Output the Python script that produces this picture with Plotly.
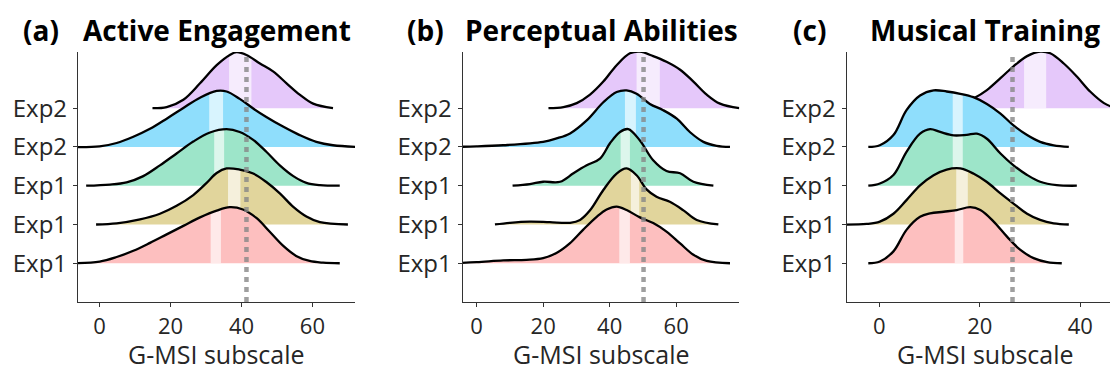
import plotly.graph_objects as go
import numpy as np

# ---------------- data ----------------
ytick_labels = ["Exp1", "Exp1", "Exp1", "Exp2", "Exp2"]
panel_titles = ["Active Engagement", "Perceptual Abilities", "Musical Training"]
panel_tags = ["(a)", "(b)", "(c)"]
norm_values = [41.4, 50.2, 26.5]

# Panel (a) Active Engagement : ridges bottom -> top
ae_r1_x = [-9, 0, 4.8, 9.5, 14.2, 18.9, 23.6, 28.3, 33, 36.7, 40.4, 44.2, 47.9, 51.7, 55.4, 59.2, 63, 67.7]
ae_r1_d = [0, 0.03, 0.11, 0.22, 0.36, 0.51, 0.66, 0.81, 0.93, 0.99, 0.95, 0.8, 0.56, 0.31, 0.13, 0.04, 0.01, 0]
ae_r2_x = [-1, 4.8, 11.4, 17, 21.7, 26.4, 30.1, 33, 35.8, 39.5, 43.3, 47, 50.8, 54.6, 58.3, 62.1, 70]
ae_r2_d = [0, 0.02, 0.09, 0.19, 0.33, 0.52, 0.73, 0.91, 0.99, 0.97, 0.9, 0.75, 0.55, 0.31, 0.14, 0.04, 0]
ae_r3_x = [-3.8, 2.9, 7.6, 12.3, 17, 21.7, 26.4, 31.1, 35.8, 39.5, 43.3, 47, 50.8, 54.6, 58.3, 62.1, 67.7]
ae_r3_d = [0, 0.02, 0.06, 0.17, 0.36, 0.57, 0.78, 0.94, 1.0, 0.95, 0.81, 0.6, 0.36, 0.17, 0.05, 0.01, 0]
ae_r4_x = [-9, 0, 4.8, 9.5, 14.2, 18.9, 23.6, 28.3, 33, 35.8, 39.5, 43.3, 47, 51.7, 56.4, 61.1, 65.8, 73]
ae_r4_d = [0, 0.01, 0.07, 0.18, 0.32, 0.5, 0.69, 0.87, 0.99, 0.98, 0.85, 0.68, 0.53, 0.36, 0.21, 0.09, 0.03, 0]
ae_r5_x = [14.9, 18.9, 23.6, 28.3, 33, 36.7, 38.6, 41.4, 45.2, 48.9, 52.7, 56.4, 60.2, 65.8]
ae_r5_d = [0, 0.02, 0.15, 0.44, 0.76, 0.94, 0.99, 0.94, 0.79, 0.65, 0.44, 0.24, 0.08, 0]
ae_bands = [(31.3, 34.2), (36.2, 39.7), (32.3, 35.1), (30.9, 34.8), (36.5, 42.8)]

# Panel (b) Perceptual Abilities
pa_r1_x = [-8, 0, 8, 15, 20, 24, 28, 32, 36.1, 39.1, 42.1, 45.1, 49.1, 53.1, 57.1, 61.2, 65.2, 69.2, 76.2]
pa_r1_d = [0, 0.02, 0.05, 0.06, 0.09, 0.18, 0.35, 0.59, 0.82, 0.95, 1.0, 0.94, 0.81, 0.71, 0.56, 0.35, 0.15, 0.04, 0]
pa_r2_x = [5.5, 10, 16, 22, 28.1, 31.1, 34.1, 38.1, 42.1, 45.1, 48.1, 51.1, 54.1, 58.1, 62.2, 66.2, 72.7]
pa_r2_d = [0, 0.03, 0.05, 0.04, 0.03, 0.08, 0.25, 0.61, 0.9, 0.99, 0.87, 0.62, 0.49, 0.4, 0.25, 0.08, 0]
pa_r3_x = [10.8, 16, 20, 25.1, 29.1, 33.1, 37.1, 40.1, 43.1, 45.6, 49.1, 53.1, 57.1, 61.2, 65.2, 71.2]
pa_r3_d = [0, 0.03, 0.07, 0.07, 0.22, 0.36, 0.48, 0.75, 0.95, 1.0, 0.8, 0.45, 0.26, 0.22, 0.07, 0]
pa_r4_x = [-8, 0, 8, 20, 24, 28.1, 33.1, 38.1, 42.1, 45.1, 48.1, 52.1, 56.1, 60.2, 64.2, 68.2, 72.2, 76.2]
pa_r4_d = [0, 0.01, 0.03, 0.09, 0.15, 0.24, 0.47, 0.79, 0.97, 1.0, 0.94, 0.76, 0.65, 0.5, 0.26, 0.09, 0.02, 0]
pa_r5_x = [21.6, 26.1, 30.1, 34.1, 38.1, 42.1, 46.1, 49.1, 53.1, 57.1, 61.2, 65.2, 69.2, 73.2, 79]
pa_r5_d = [0, 0.02, 0.09, 0.24, 0.47, 0.76, 0.97, 1.0, 0.92, 0.82, 0.68, 0.47, 0.24, 0.08, 0]
pa_bands = [(42.9, 46.1), (46.4, 48.9), (43.3, 46.1), (44.6, 47.9), (48.1, 55.1)]

# Panel (c) Musical Training
mt_r1_x = [-2.2, 0.1, 2.8, 5.4, 8.1, 10.1, 12.8, 15.4, 18.1, 20.1, 22.7, 25.4, 28, 30.7, 33.4, 36.3]
mt_r1_d = [0, 0.03, 0.21, 0.59, 0.82, 0.88, 0.91, 0.94, 0.99, 0.94, 0.74, 0.47, 0.24, 0.09, 0.02, 0]
mt_r2_x = [-9, -2.5, 0.1, 2.8, 5.4, 8.1, 10.8, 13.4, 16.1, 18.7, 21.4, 24.1, 26.7, 29.4, 32, 34.7, 37.7]
mt_r2_d = [0, 0.01, 0.05, 0.19, 0.43, 0.69, 0.87, 0.97, 0.99, 0.9, 0.75, 0.55, 0.37, 0.19, 0.08, 0.02, 0]
mt_r3_x = [-2.2, 0.1, 2.8, 5.4, 8.1, 10.1, 12.1, 14.8, 17.4, 19.4, 21.4, 24.1, 26.7, 29.4, 32, 35.3, 39.3]
mt_r3_d = [0, 0.04, 0.19, 0.6, 0.92, 1.0, 0.95, 0.89, 0.9, 0.92, 0.83, 0.57, 0.36, 0.19, 0.07, 0.01, 0]
mt_r4_x = [-2.2, 0.1, 2.8, 5.4, 8.1, 10.8, 13.4, 16.1, 18.7, 21.4, 24.1, 26.7, 29.4, 32, 34.7, 37.7]
mt_r4_d = [0, 0.03, 0.21, 0.65, 0.91, 1.0, 0.98, 0.94, 0.88, 0.76, 0.59, 0.38, 0.21, 0.09, 0.03, 0]
mt_r5_x = [11, 15.4, 18.7, 21.4, 24.1, 26.7, 29.4, 32, 34, 36.7, 39.3, 42, 44.7, 46.5, 50]
mt_r5_d = [0, 0.04, 0.17, 0.32, 0.53, 0.74, 0.92, 1.0, 0.97, 0.79, 0.56, 0.29, 0.09, 0.02, 0]
mt_bands = [(15.0, 16.7), (15.3, 17.6), (14.6, 16.6), (14.6, 16.6), (28.8, 33.2)]

# ---------------- styling ----------------
fill_colors = ["#fdbfbf", "#e1d59c", "#9de5c9", "#8fdefc", "#e5c8fa"]
ridge_height = 1.46
TEXT = "#262626"
FONT = "Open Sans"

panels = [
    dict(ridges=[(ae_r1_x, ae_r1_d), (ae_r2_x, ae_r2_d), (ae_r3_x, ae_r3_d), (ae_r4_x, ae_r4_d), (ae_r5_x, ae_r5_d)],
         bands=ae_bands, xrange=[-6.1, 72.0], ticks=[0, 20, 40, 60], dom=[78 / 1110, 355 / 1110]),
    dict(ridges=[(pa_r1_x, pa_r1_d), (pa_r2_x, pa_r2_d), (pa_r3_x, pa_r3_d), (pa_r4_x, pa_r4_d), (pa_r5_x, pa_r5_d)],
         bands=pa_bands, xrange=[-4.2, 79.0], ticks=[0, 20, 40, 60], dom=[462.7 / 1110, 739.3 / 1110]),
    dict(ridges=[(mt_r1_x, mt_r1_d), (mt_r2_x, mt_r2_d), (mt_r3_x, mt_r3_d), (mt_r4_x, mt_r4_d), (mt_r5_x, mt_r5_d)],
         bands=mt_bands, xrange=[-6.5, 45.9], ticks=[0, 20, 40], dom=[846.7 / 1110, 1.0]),
]

ydom = [1 - 302 / 373, 1 - 52 / 373]
fig = go.Figure()
layout = dict(
    width=1110, height=373, margin=dict(l=0, r=0, t=0, b=0),
    paper_bgcolor="white", plot_bgcolor="white", showlegend=False,
    font=dict(family=FONT, color=TEXT),
)
annotations = []
shapes = []

for pi, p in enumerate(panels):
    sfx = "" if pi == 0 else str(pi + 1)
    xa, ya = "x" + sfx, "y" + sfx
    # draw top ridge first so lower ridges sit in front
    for ri in range(4, -1, -1):
        xs, ds = p["ridges"][ri]
        xs = np.asarray(xs, float)
        ys = ri + ridge_height * np.asarray(ds, float)
        base = [ri, ri]
        fig.add_trace(go.Scatter(x=[xs[0], xs[-1]], y=base, mode="lines", line=dict(width=0),
                                 xaxis=xa, yaxis=ya, hoverinfo="skip"))
        fig.add_trace(go.Scatter(x=xs, y=ys, mode="lines", line=dict(width=0, shape="spline"),
                                 fill="tonexty", fillcolor=fill_colors[ri], xaxis=xa, yaxis=ya,
                                 hoverinfo="skip"))
        lo, hi = p["bands"][ri]
        inside = (xs > lo) & (xs < hi)
        bx = np.concatenate([[lo], xs[inside], [hi]])
        by = np.interp(bx, xs, ys)
        fig.add_trace(go.Scatter(x=[lo, hi], y=base, mode="lines", line=dict(width=0),
                                 xaxis=xa, yaxis=ya, hoverinfo="skip"))
        fig.add_trace(go.Scatter(x=bx, y=by, mode="lines", line=dict(width=0),
                                 fill="tonexty", fillcolor="rgba(255,255,255,0.65)",
                                 xaxis=xa, yaxis=ya, hoverinfo="skip"))
        fig.add_trace(go.Scatter(x=xs, y=ys, mode="lines",
                                 line=dict(color="black", width=2.3, shape="spline", smoothing=1.0),
                                 xaxis=xa, yaxis=ya, hoverinfo="skip"))

    layout["xaxis" + sfx] = dict(
        domain=p["dom"], range=p["xrange"], anchor=ya, tickvals=p["ticks"],
        showline=True, linecolor="#333333", linewidth=1.3, ticks="outside", ticklen=4,
        tickcolor="#333333", showgrid=False, zeroline=False,
        tickfont=dict(size=22, color=TEXT, family=FONT),
    )
    layout["yaxis" + sfx] = dict(
        domain=ydom, range=[-1.0, 5.45], anchor=xa, tickvals=[0, 1, 2, 3, 4],
        ticktext=ytick_labels, showline=True, linecolor="#333333", linewidth=1.3,
        ticks="outside", ticklen=4, tickcolor="#333333", showgrid=False, zeroline=False,
        ticklabelstandoff=1,
        tickfont=dict(size=24, color=TEXT, family=FONT),
    )
    shapes.append(dict(type="line", xref=xa, yref="paper", x0=norm_values[pi], x1=norm_values[pi],
                       y0=ydom[0], y1=ydom[1], layer="above",
                       line=dict(color="rgba(135,135,135,0.8)", width=4.5, dash="5px,5px")))
    x0 = p["dom"][0]
    plot_w = 277 / 1110
    cx = x0 + plot_w / 2
    annotations.append(dict(text="<b>" + panel_titles[pi] + "</b>", xref="paper", yref="paper",
                            x=cx, y=1 - 30 / 373, xanchor="center", yanchor="middle",
                            showarrow=False, font=dict(size=28, color="black", family=FONT)))
    annotations.append(dict(text="<b>" + panel_tags[pi] + "</b>", xref="paper", yref="paper",
                            x=x0 - 37 / 1110, y=1 - 30 / 373, xanchor="center", yanchor="middle",
                            showarrow=False, font=dict(size=28, color="black", family=FONT)))
    annotations.append(dict(text="G-MSI subscale", xref="paper", yref="paper",
                            x=cx, y=0, xanchor="center", yanchor="bottom",
                            showarrow=False, font=dict(size=25, color=TEXT, family=FONT)))

layout["annotations"] = annotations
layout["shapes"] = shapes
fig.update_layout(**layout)
fig.write_html("out.html")
